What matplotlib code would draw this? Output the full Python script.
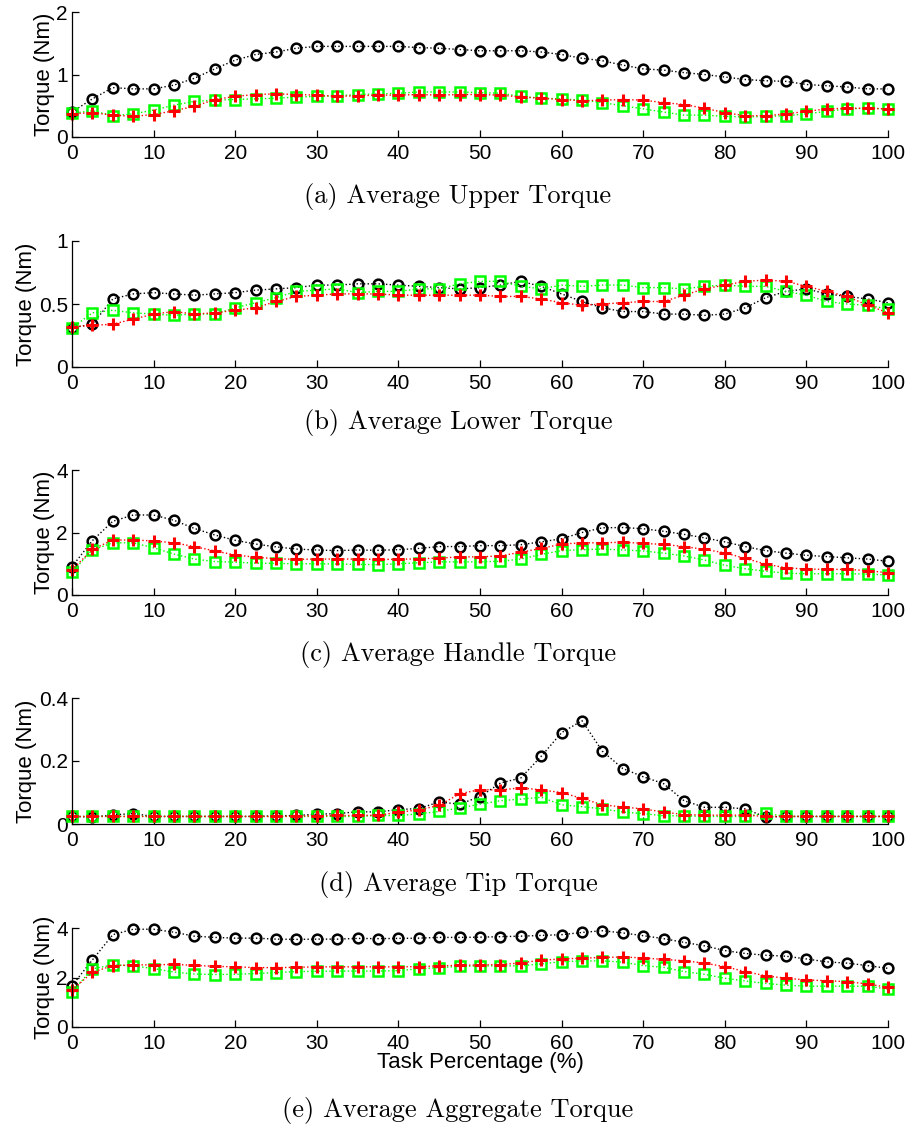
import numpy as np
import matplotlib
matplotlib.use("Agg")
import matplotlib.pyplot as plt
from matplotlib.ticker import FormatStrFormatter

# task percentage, one sample every 2.5 %
task_pct = np.arange(0, 100.1, 2.5)

# (a) upper torque
upper_black = [0.40, 0.61, 0.79, 0.77, 0.77, 0.83, 0.94, 1.09, 1.23, 1.32, 1.36, 1.42, 1.45, 1.45,
               1.45, 1.45, 1.45, 1.43, 1.42, 1.40, 1.38, 1.38, 1.38, 1.36, 1.32, 1.26, 1.22, 1.15,
               1.09, 1.07, 1.03, 1.00, 0.96, 0.92, 0.90, 0.89, 0.84, 0.82, 0.80, 0.77, 0.77]
upper_red = [0.37, 0.39, 0.35, 0.33, 0.36, 0.42, 0.49, 0.60, 0.65, 0.68, 0.69, 0.68, 0.67, 0.65,
             0.66, 0.67, 0.67, 0.68, 0.67, 0.68, 0.68, 0.67, 0.64, 0.62, 0.60, 0.58, 0.59, 0.60,
             0.59, 0.55, 0.52, 0.46, 0.39, 0.34, 0.34, 0.37, 0.41, 0.45, 0.46, 0.46, 0.45]
upper_green = [0.38, 0.42, 0.34, 0.37, 0.43, 0.51, 0.57, 0.59, 0.60, 0.61, 0.62, 0.64, 0.65, 0.66,
               0.68, 0.69, 0.70, 0.72, 0.72, 0.72, 0.71, 0.70, 0.65, 0.62, 0.61, 0.59, 0.55, 0.50,
               0.45, 0.40, 0.35, 0.35, 0.33, 0.32, 0.33, 0.34, 0.37, 0.41, 0.45, 0.46, 0.45]

# (b) lower torque
lower_black = [0.31, 0.34, 0.54, 0.58, 0.59, 0.58, 0.57, 0.58, 0.59, 0.61, 0.62, 0.63, 0.65, 0.65,
               0.66, 0.66, 0.65, 0.64, 0.63, 0.62, 0.63, 0.65, 0.68, 0.64, 0.58, 0.52, 0.47, 0.44,
               0.44, 0.42, 0.42, 0.41, 0.42, 0.47, 0.55, 0.60, 0.62, 0.58, 0.56, 0.54, 0.51]
lower_red = [0.32, 0.33, 0.34, 0.38, 0.42, 0.44, 0.42, 0.43, 0.45, 0.47, 0.52, 0.56, 0.57, 0.58,
             0.58, 0.58, 0.57, 0.57, 0.57, 0.57, 0.57, 0.56, 0.56, 0.54, 0.51, 0.49, 0.50, 0.51,
             0.52, 0.52, 0.57, 0.62, 0.65, 0.68, 0.69, 0.68, 0.64, 0.60, 0.56, 0.49, 0.43]
lower_green = [0.31, 0.43, 0.45, 0.43, 0.42, 0.41, 0.42, 0.42, 0.47, 0.51, 0.55, 0.60, 0.61, 0.62,
               0.59, 0.60, 0.60, 0.62, 0.62, 0.66, 0.68, 0.68, 0.64, 0.62, 0.65, 0.64, 0.65, 0.65,
               0.63, 0.63, 0.62, 0.64, 0.65, 0.64, 0.64, 0.60, 0.57, 0.52, 0.50, 0.49, 0.46]

# (c) handle torque
handle_black = [0.91, 1.74, 2.36, 2.56, 2.56, 2.39, 2.13, 1.92, 1.75, 1.63, 1.54, 1.47, 1.44, 1.42,
                1.44, 1.43, 1.45, 1.49, 1.55, 1.55, 1.58, 1.58, 1.61, 1.70, 1.80, 2.00, 2.15, 2.16,
                2.12, 2.04, 1.94, 1.83, 1.70, 1.55, 1.42, 1.34, 1.27, 1.23, 1.19, 1.15, 1.08]
handle_red = [0.80, 1.46, 1.76, 1.76, 1.73, 1.67, 1.55, 1.41, 1.28, 1.21, 1.16, 1.14, 1.15, 1.15,
              1.15, 1.14, 1.14, 1.16, 1.18, 1.22, 1.22, 1.25, 1.37, 1.49, 1.63, 1.67, 1.67, 1.69,
              1.65, 1.62, 1.55, 1.46, 1.35, 1.17, 0.99, 0.87, 0.83, 0.82, 0.82, 0.78, 0.71]
handle_green = [0.74, 1.44, 1.67, 1.67, 1.51, 1.31, 1.15, 1.07, 1.05, 1.02, 1.01, 1.00, 1.00, 0.99,
                0.98, 0.97, 1.00, 1.03, 1.06, 1.06, 1.06, 1.08, 1.15, 1.30, 1.42, 1.45, 1.47, 1.44,
                1.41, 1.34, 1.25, 1.12, 0.95, 0.84, 0.76, 0.70, 0.68, 0.68, 0.68, 0.67, 0.64]

# (d) tip torque
tip_black = [0.024, 0.022, 0.029, 0.033, 0.024, 0.024, 0.024, 0.024, 0.024, 0.024, 0.026, 0.027,
             0.031, 0.033, 0.039, 0.038, 0.046, 0.049, 0.070, 0.063, 0.087, 0.130, 0.146, 0.215,
             0.290, 0.328, 0.231, 0.176, 0.150, 0.128, 0.074, 0.053, 0.053, 0.048, 0.022, 0.024,
             0.024, 0.024, 0.024, 0.024, 0.024]
tip_red = [0.024, 0.024, 0.024, 0.024, 0.024, 0.024, 0.024, 0.024, 0.024, 0.024, 0.024, 0.025,
           0.026, 0.027, 0.027, 0.028, 0.037, 0.045, 0.059, 0.096, 0.109, 0.108, 0.115, 0.108,
           0.100, 0.081, 0.061, 0.054, 0.048, 0.038, 0.030, 0.028, 0.028, 0.028, 0.024, 0.024,
           0.024, 0.024, 0.024, 0.024, 0.024]
tip_green = [0.024, 0.024, 0.024, 0.024, 0.024, 0.024, 0.024, 0.024, 0.024, 0.024, 0.024, 0.024,
             0.024, 0.024, 0.024, 0.027, 0.027, 0.032, 0.040, 0.051, 0.063, 0.074, 0.079, 0.085,
             0.061, 0.055, 0.048, 0.038, 0.033, 0.026, 0.026, 0.024, 0.024, 0.024, 0.034, 0.024,
             0.024, 0.024, 0.024, 0.024, 0.024]

# (e) aggregate torque
agg_black = [1.67, 2.71, 3.73, 3.95, 3.95, 3.83, 3.67, 3.62, 3.59, 3.59, 3.55, 3.54, 3.55, 3.55,
             3.58, 3.57, 3.58, 3.59, 3.62, 3.62, 3.63, 3.65, 3.67, 3.70, 3.73, 3.82, 3.89, 3.80,
             3.69, 3.57, 3.42, 3.28, 3.09, 2.97, 2.90, 2.86, 2.75, 2.63, 2.58, 2.48, 2.37]
agg_red = [1.49, 2.21, 2.48, 2.51, 2.51, 2.53, 2.49, 2.45, 2.43, 2.40, 2.40, 2.41, 2.43, 2.43,
           2.43, 2.43, 2.43, 2.44, 2.47, 2.49, 2.51, 2.52, 2.59, 2.70, 2.75, 2.78, 2.81, 2.83,
           2.79, 2.73, 2.68, 2.58, 2.44, 2.24, 2.07, 1.97, 1.90, 1.87, 1.83, 1.74, 1.60]
agg_green = [1.42, 2.35, 2.51, 2.47, 2.36, 2.22, 2.14, 2.12, 2.13, 2.16, 2.20, 2.24, 2.25, 2.26,
             2.26, 2.26, 2.28, 2.35, 2.40, 2.45, 2.47, 2.47, 2.47, 2.55, 2.64, 2.67, 2.67, 2.62,
             2.48, 2.41, 2.24, 2.13, 1.97, 1.86, 1.76, 1.69, 1.65, 1.65, 1.65, 1.65, 1.53]

captions = ["(a) Average Upper Torque", "(b) Average Lower Torque",
            "(c) Average Handle Torque", "(d) Average Tip Torque",
            "(e) Average Aggregate Torque"]
y_limits = [2, 1, 4, 0.4, 4]
y_steps = [1, 0.5, 2, 0.2, 2]
panels = [(upper_black, upper_red, upper_green),
          (lower_black, lower_red, lower_green),
          (handle_black, handle_red, handle_green),
          (tip_black, tip_red, tip_green),
          (agg_black, agg_red, agg_green)]

plt.rcParams['font.family'] = ['Liberation Sans', 'DejaVu Sans']

W, H = 910.0, 1127.0
fig = plt.figure(figsize=(9.1, 11.27), dpi=100)

# axes boxes in pixels: (top, bottom)
boxes = [(12, 137), (241, 367), (470, 595), (698, 824), (928, 1027)]
caption_y = [196, 422, 655, 885, 1110]
x_left, x_right = 72, 888

for i in range(5):
    top, bot = boxes[i]
    ax = fig.add_axes([x_left / W, 1 - bot / H, (x_right - x_left) / W, (bot - top) / H])
    black, red, green = panels[i]
    ax.plot(task_pct, black, 'k:', marker='o', ms=7, mew=1.8, mfc='none', lw=1.0, clip_on=False)
    ax.plot(task_pct, green, ':', color='#00ff00', marker='s', ms=6.5, mew=1.8, mfc='none',
            lw=1.0, clip_on=False)
    ax.plot(task_pct, red, 'r:', marker='+', ms=8, mew=2.2, lw=1.0, clip_on=False)

    ax.set_xlim(0, 100)
    ax.set_ylim(0, y_limits[i])
    ax.set_xticks(np.arange(0, 101, 10))
    ax.set_yticks(np.arange(0, y_limits[i] + 1e-9, y_steps[i]))
    ax.yaxis.set_major_formatter(FormatStrFormatter('%g'))
    ax.spines['top'].set_visible(False)
    ax.spines['right'].set_visible(False)
    for s in ['left', 'bottom']:
        ax.spines[s].set_linewidth(0.9)
    ax.tick_params(direction='in', length=5, width=0.9, labelsize=15, pad=3)
    ax.tick_params(axis='x', pad=5)
    ax.set_ylabel('Torque (Nm)', fontsize=16, labelpad=1)
    if i == 4:
        ax.set_xlabel('Task Percentage (%)', fontsize=16, labelpad=-1)

    fig.text(458 / W, 1 - caption_y[i] / H, captions[i], ha='center', va='center',
             fontsize=19, family='cmr10')

fig.savefig('out.png', dpi=100)
